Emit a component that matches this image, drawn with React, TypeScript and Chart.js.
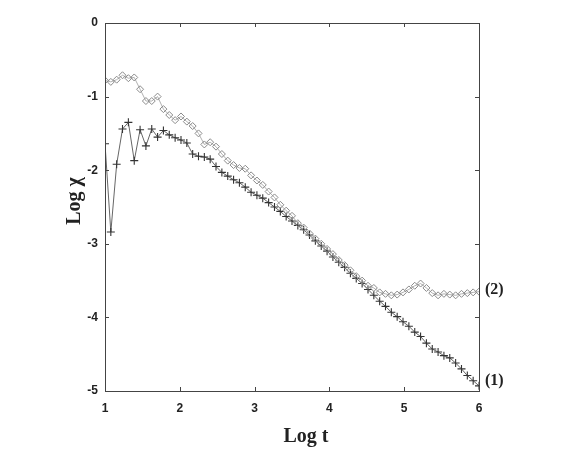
import { useEffect, useRef } from "react";
import { Chart, registerables } from "chart.js";

Chart.register(...registerables);

// Log t sample positions
const logT = [
  1.0, 1.078, 1.156, 1.234, 1.3125, 1.391, 1.469, 1.547, 1.625, 1.703,
  1.781, 1.859, 1.9375, 2.016, 2.094, 2.172, 2.25, 2.328, 2.406, 2.484,
  2.5625, 2.641, 2.719, 2.797, 2.875, 2.953, 3.031, 3.109, 3.1875, 3.266,
  3.344, 3.422, 3.5, 3.578, 3.656, 3.734, 3.8125, 3.891, 3.969, 4.047,
  4.125, 4.203, 4.281, 4.359, 4.4375, 4.516, 4.594, 4.672, 4.75, 4.828,
  4.906, 4.984, 5.0625, 5.141, 5.219, 5.297, 5.375, 5.453, 5.531, 5.609,
  5.6875, 5.766, 5.844, 5.922, 6.0,
];

// Series (1): "+" markers
const logChi1 = [
  -1.64, -2.84, -1.92, -1.44, -1.35, -1.87, -1.45, -1.67, -1.44, -1.55,
  -1.46, -1.52, -1.56, -1.59, -1.63, -1.78, -1.81, -1.82, -1.85, -1.95,
  -2.03, -2.08, -2.13, -2.17, -2.23, -2.30, -2.34, -2.38, -2.44, -2.50,
  -2.56, -2.63, -2.69, -2.75, -2.81, -2.88, -2.96, -3.03, -3.10, -3.18,
  -3.25, -3.32, -3.40, -3.47, -3.54, -3.62, -3.70, -3.78, -3.85, -3.93,
  -3.99, -4.06, -4.12, -4.20, -4.26, -4.35, -4.43, -4.47, -4.52, -4.55,
  -4.62, -4.70, -4.79, -4.86, -4.93,
];

// Series (2): diamond markers
const logChi2 = [
  -0.78, -0.80, -0.77, -0.71, -0.75, -0.74, -0.90, -1.06, -1.06, -1.00,
  -1.17, -1.25, -1.32, -1.27, -1.34, -1.40, -1.50, -1.65, -1.62, -1.68,
  -1.78, -1.87, -1.93, -1.97, -1.98, -2.07, -2.14, -2.20, -2.29, -2.37,
  -2.47, -2.55, -2.62, -2.72, -2.78, -2.86, -2.93, -3.00, -3.07, -3.14,
  -3.22, -3.29, -3.36, -3.44, -3.50, -3.57, -3.60, -3.66, -3.68, -3.70,
  -3.69, -3.66, -3.62, -3.57, -3.54, -3.60, -3.67, -3.70, -3.68, -3.69,
  -3.70, -3.68, -3.67, -3.66, -3.65,
];

const xTicks = [1, 2, 3, 4, 5, 6];
const yTicks = [0, -1, -2, -3, -4, -5];
const seriesLabels = ["(1)", "(2)"];
const xTitle = "Log t";
const yTitle = "Log \u03C7";

const framePlugin = {
  id: "frame",
  afterDraw(chart: any) {
    const { ctx, chartArea: a, scales } = chart;
    const xs = scales.x;
    const ys = scales.y;
    ctx.save();
    ctx.strokeStyle = "#444";
    ctx.lineWidth = 1;
    ctx.strokeRect(a.left + 0.5, a.top + 0.5, a.right - a.left, a.bottom - a.top);
    const tl = 4;
    ctx.beginPath();
    xTicks.forEach((v) => {
      const px = Math.round(xs.getPixelForValue(v)) + 0.5;
      ctx.moveTo(px, a.bottom);
      ctx.lineTo(px, a.bottom - tl);
      ctx.moveTo(px, a.top);
      ctx.lineTo(px, a.top + tl);
    });
    yTicks.forEach((v) => {
      const py = Math.round(ys.getPixelForValue(v)) + 0.5;
      ctx.moveTo(a.left, py);
      ctx.lineTo(a.left + tl, py);
      ctx.moveTo(a.right, py);
      ctx.lineTo(a.right - tl, py);
    });
    ctx.stroke();

    // axis titles
    ctx.fillStyle = "#222";
    ctx.font = "bold 20px 'Liberation Serif', 'Times New Roman', serif";
    ctx.textAlign = "center";
    ctx.textBaseline = "middle";
    ctx.fillText(xTitle, (a.left + a.right) / 2 + 14, 437);
    ctx.save();
    ctx.translate(75, (a.top + a.bottom) / 2 - 6);
    ctx.rotate(-Math.PI / 2);
    ctx.fillText(yTitle, 0, 0);
    ctx.restore();

    // series end labels
    ctx.font = "bold 16px 'Liberation Serif', 'Times New Roman', serif";
    ctx.textAlign = "left";
    const last = logT.length - 1;
    const y1 = ys.getPixelForValue(logChi1[last]);
    const y2 = ys.getPixelForValue(logChi2[last]);
    ctx.fillText(seriesLabels[0], a.right + 6, y1 - 5);
    ctx.fillText(seriesLabels[1], a.right + 6, y2 - 2);
    ctx.restore();
  },
};

export default function App() {
  const ref = useRef<HTMLCanvasElement | null>(null);
  useEffect(() => {
    if (!ref.current) return;
    const tickFont = { family: "'Liberation Sans', Arial, sans-serif", size: 12, weight: "bold" as const };
    const chart = new Chart(ref.current, {
      type: "line",
      data: {
        datasets: [
          {
            label: seriesLabels[1],
            data: logT.map((x, i) => ({ x, y: logChi2[i] })),
            borderColor: "#a8a8a8",
            borderWidth: 0.9,
            pointStyle: "rectRot",
            pointRadius: 3.5,
            pointBorderColor: "#8a8a8a",
            pointBackgroundColor: "rgba(255,255,255,0)",
            pointBorderWidth: 1,
            tension: 0,
          },
          {
            label: seriesLabels[0],
            data: logT.map((x, i) => ({ x, y: logChi1[i] })),
            borderColor: "#666",
            borderWidth: 1,
            pointStyle: "cross",
            pointRadius: 4,
            pointBorderColor: "#333",
            pointBorderWidth: 1.1,
            tension: 0,
          },
        ],
      },
      options: {
        responsive: false,
        animation: false,
        layout: { padding: { left: 0, top: 23, right: 98, bottom: 0 } },
        plugins: { legend: { display: false }, tooltip: { enabled: false } },
        scales: {
          x: {
            type: "linear",
            min: 1,
            max: 6,
            ticks: { stepSize: 1, font: tickFont, color: "#222", padding: 10 },
            grid: { display: false, drawTicks: false },
            border: { display: false },
            afterFit: (s: any) => { s.height = 60; },
          },
          y: {
            type: "linear",
            min: -5,
            max: 0,
            ticks: { stepSize: 1, font: tickFont, color: "#222", padding: 7 },
            grid: { display: false, drawTicks: false },
            border: { display: false },
            afterFit: (s: any) => { s.width = 105; },
          },
        },
      },
      plugins: [framePlugin],
    });
    return () => chart.destroy();
  }, []);
  return (
    <div style={{ position: "absolute", left: 0, top: 0, width: 577, height: 451, background: "#fff" }}>
      <canvas ref={ref} width={577} height={451} />
    </div>
  );
}
